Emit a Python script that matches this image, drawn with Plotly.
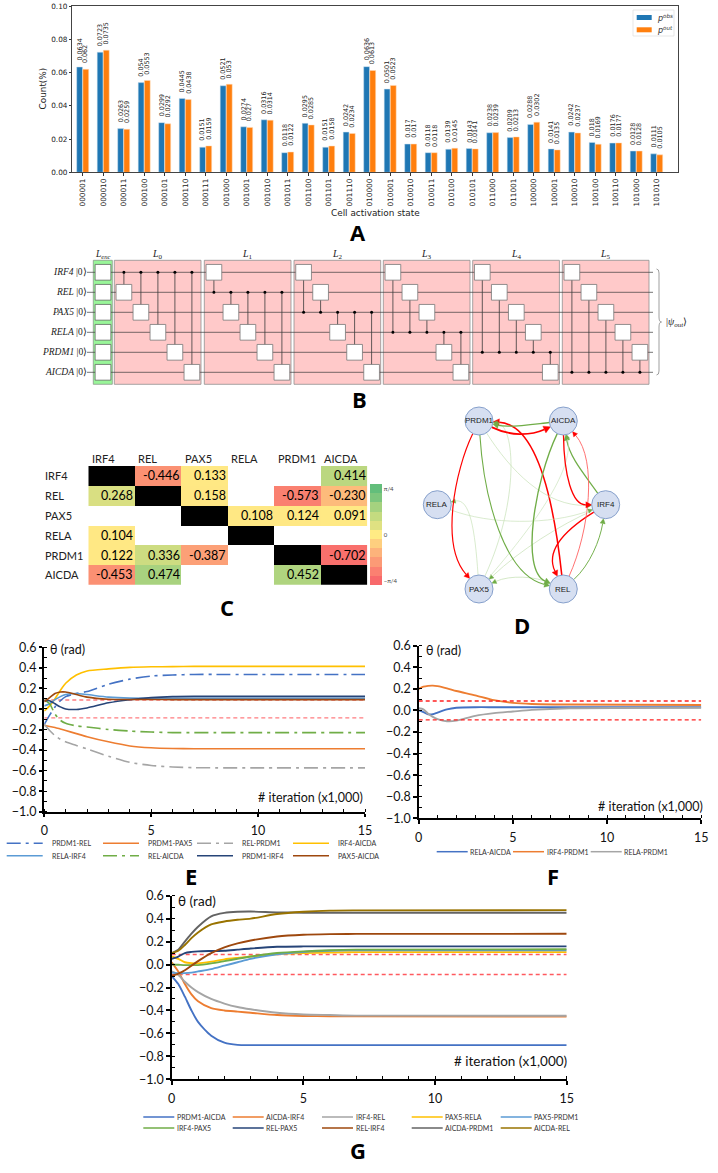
import math
import plotly.graph_objects as go

W, H = 718, 1173
def PX(x): return x / W
def PY(y): return 1 - y / H

# ---------- Panel A data ----------
states = ["000001","000010","000011","000100","000101","000110","000111","001000","001001","001010",
          "001011","001100","001101","001110","010000","010001","010010","010011","010100","010101",
          "011000","011001","100000","100001","100010","100100","100110","101000","101010"]
p_obs = [0.0634,0.0723,0.0263,0.054,0.0299,0.0445,0.0151,0.0521,0.0274,0.0316,0.0118,0.0295,0.0151,0.0242,
         0.0636,0.0501,0.017,0.0118,0.0139,0.0143,0.0238,0.0209,0.0288,0.0141,0.0242,0.018,0.0176,0.0128,0.0111]
p_out = [0.062,0.0735,0.0259,0.0553,0.0292,0.0438,0.0159,0.053,0.027,0.0314,0.0122,0.0285,0.0158,0.0234,
         0.0613,0.0523,0.017,0.0118,0.0145,0.0141,0.0239,0.0213,0.0302,0.0135,0.0237,0.0169,0.0177,0.0128,0.0105]

# ---------- Panels B, C, D data ----------
genes = ["IRF4","REL","PAX5","RELA","PRDM1","AICDA"]
theta = [[None,-0.446,0.133,None,None,0.414],
         [0.268,None,0.158,None,-0.573,-0.230],
         [None,None,None,0.108,0.124,0.091],
         [0.104,None,None,None,None,None],
         [0.122,0.336,-0.387,None,None,-0.702],
         [-0.453,0.474,None,None,0.452,None]]
node_xy = {"PRDM1":(479,421),"AICDA":(563.3,421),"RELA":(437.3,504.7),
           "IRF4":(605.7,504.7),"PAX5":(479,589),"REL":(563.3,589)}
# two control points per curved edge of the network
edge_ctrl = {("PRDM1","AICDA"):((510,436),(530,436)),("AICDA","PRDM1"):((535,424),(510,428)),
             ("REL","PRDM1"):((558,540),(545,425)),("PRDM1","REL"):((484,500),(505,575)),
             ("PRDM1","PAX5"):((455,470),(440,545)),("AICDA","REL"):((535,480),(520,570)),
             ("AICDA","IRF4"):((564,475),(572,505)),("IRF4","AICDA"):((585,475),(570,458)),
             ("REL","AICDA"):((590,530),(597,460)),("IRF4","REL"):((565,530),(545,550)),
             ("REL","IRF4"):((590,565),(600,540)),("RELA","IRF4"):((490,525),(550,525)),
             ("PAX5","RELA"):((475,530),(470,498)),("PRDM1","IRF4"):((510,470),(545,507)),
             ("PAX5","AICDA"):((530,530),(575,470)),("PAX5","PRDM1"):((520,500),(515,425)),
             ("IRF4","PAX5"):((560,525),(520,550)),("REL","PAX5"):((535,576),(510,575))}
# heat-map colours: value, colour
cell_values = [-0.7854,-0.70,-0.573,-0.45,-0.387,-0.23,-0.2,0,0.16,0.27,0.336,0.414,0.474,0.7854]
cell_colors = ["#F76A6B","#F9706C","#FA8070","#FB9073","#FCA077","#FDBB7B","#FDD07F","#FFEB84","#FFE784",
               "#D8DF82","#CDDC81","#BBD780","#A8D27F","#63BE7B"]
bar_bands = ["#F8696B","#FB8071","#FC9A76","#FDB37B","#FECF7F","#FFEB84","#DFE182","#C4DB80","#A5D27F","#7DC67D","#63BE7B"]

# ---------- Panels E, F, G data ----------
pi36 = 0.0873
iter_e = [0,0.25,0.5,0.75,1,1.5,2,3,4,5,6,7,8,10,15]
e_series = {
 "PRDM1-REL":  [-0.15,-0.06,0.02,0.08,0.12,0.15,0.17,0.24,0.29,0.32,0.33,0.336,0.336,0.336,0.336],
 "PRDM1-PAX5": [-0.16,-0.17,-0.18,-0.195,-0.21,-0.24,-0.27,-0.32,-0.36,-0.378,-0.385,-0.387,-0.387,-0.387,-0.387],
 "REL-PRDM1":  [-0.15,-0.21,-0.26,-0.295,-0.32,-0.355,-0.39,-0.46,-0.52,-0.55,-0.565,-0.572,-0.573,-0.573,-0.573],
 "IRF4-AICDA": [-0.02,0.03,0.10,0.18,0.25,0.33,0.37,0.39,0.405,0.41,0.412,0.414,0.414,0.414,0.414],
 "RELA-IRF4":  [0.03,0.05,0.09,0.12,0.14,0.15,0.14,0.115,0.105,0.104,0.104,0.104,0.104,0.104,0.104],
 "REL-AICDA":  [0.09,0.05,-0.05,-0.11,-0.14,-0.165,-0.175,-0.20,-0.215,-0.225,-0.23,-0.23,-0.23,-0.23,-0.23],
 "PRDM1-IRF4": [0.08,0.08,0.05,0.02,0.0,-0.005,0.01,0.06,0.09,0.11,0.12,0.122,0.122,0.122,0.122],
 "PAX5-AICDA": [0.07,0.11,0.15,0.165,0.165,0.14,0.115,0.095,0.092,0.092,0.091,0.091,0.091,0.091,0.091]}
e_colors = ["#4472C4","#ED7D31","#A5A5A5","#FFC000","#5B9BD5","#70AD47","#264478","#9E480E"]
e_dash =   ["dashdot","solid","dashdot","solid","solid","dashdot","solid","solid"]

iter_f = [0,0.25,0.5,0.75,1,1.5,2,3,4,5,6,8,15]
f_series = {
 "RELA-AICDA": [0,-0.015,-0.035,-0.035,-0.02,0.01,0.025,0.03,0.03,0.03,0.03,0.03,0.03],
 "IRF4-PRDM1": [0.20,0.22,0.228,0.23,0.225,0.205,0.18,0.14,0.095,0.07,0.06,0.055,0.05],
 "RELA-PRDM1": [0.02,0.01,-0.03,-0.06,-0.08,-0.10,-0.095,-0.05,-0.025,-0.01,0.005,0.02,0.025]}
f_colors = ["#4472C4","#ED7D31","#A5A5A5"]

iter_g = [0,0.25,0.5,0.75,1,1.5,2,2.5,3,4,5,6,7,15]
g_series = {
 "PRDM1-AICDA": [-0.10,-0.17,-0.28,-0.40,-0.50,-0.62,-0.68,-0.70,-0.702,-0.702,-0.702,-0.702,-0.702,-0.702],
 "AICDA-IRF4":  [0.02,-0.06,-0.17,-0.26,-0.32,-0.38,-0.40,-0.41,-0.42,-0.44,-0.448,-0.45,-0.452,-0.453],
 "IRF4-REL":    [-0.06,-0.09,-0.15,-0.20,-0.24,-0.30,-0.34,-0.37,-0.39,-0.42,-0.435,-0.44,-0.445,-0.446],
 "PAX5-RELA":   [0.07,0.05,0.02,0.012,0.01,0.025,0.045,0.058,0.07,0.09,0.10,0.105,0.108,0.108],
 "PAX5-PRDM1":  [-0.07,-0.075,-0.075,-0.07,-0.06,-0.04,-0.01,0.02,0.05,0.09,0.11,0.12,0.124,0.124],
 "IRF4-PAX5":   [0.0,-0.002,-0.005,-0.005,-0.005,0.01,0.03,0.05,0.07,0.10,0.115,0.125,0.13,0.133],
 "REL-PAX5":    [0.05,0.07,0.10,0.11,0.115,0.118,0.12,0.13,0.14,0.155,0.158,0.158,0.158,0.158],
 "REL-IRF4":    [-0.10,-0.08,-0.05,-0.01,0.03,0.10,0.15,0.185,0.21,0.245,0.26,0.265,0.267,0.268],
 "AICDA-PRDM1": [0.10,0.13,0.20,0.27,0.33,0.42,0.45,0.46,0.462,0.455,0.452,0.452,0.452,0.452],
 "AICDA-REL":   [0.10,0.12,0.17,0.23,0.28,0.35,0.375,0.39,0.40,0.44,0.46,0.47,0.472,0.474]}
g_colors = ["#4472C4","#ED7D31","#A5A5A5","#FFC000","#5B9BD5","#70AD47","#264478","#9E480E","#636363","#997300"]

fig = go.Figure()
shapes, annots = [], []

def text(x, y, s, size=10, color="black", family="Lato", xanchor="center", yanchor="middle", angle=0):
    annots.append(dict(x=PX(x), y=PY(y), xref="paper", yref="paper", text=s, showarrow=False,
                       font=dict(size=size, color=color, family=family), xanchor=xanchor, yanchor=yanchor,
                       textangle=angle, borderpad=0, borderwidth=0))

def rect(x0, y0, x1, y1, fill, line="rgba(0,0,0,0)", lw=1, layer="above"):
    shapes.append(dict(type="rect", xref="paper", yref="paper", x0=PX(x0), x1=PX(x1), y0=PY(y0), y1=PY(y1),
                       fillcolor=fill, line=dict(color=line, width=lw), layer=layer))

def seg(x0, y0, x1, y1, color="black", lw=1, dash="solid", layer="above"):
    shapes.append(dict(type="line", xref="paper", yref="paper", x0=PX(x0), x1=PX(x1), y0=PY(y0), y1=PY(y1),
                       line=dict(color=color, width=lw, dash=dash), layer=layer))

def path(points_svg, color, lw, fill=None):
    shapes.append(dict(type="path", xref="paper", yref="paper", path=points_svg,
                       line=dict(color=color, width=lw), fillcolor=fill if fill else "rgba(0,0,0,0)", layer="above"))

def P(x, y): return f"{PX(x):.5f},{PY(y):.5f}"

# ---------- A ----------
FA = "DejaVu Sans"
for vals, nm, col, edge, shift in [(p_obs, "p obs", "#1f77b4", "#cfe3f0", -3.1),
                                   (p_out, "p out", "#ff7f0e", "#ffdcbc", 3.1)]:
    fig.add_trace(go.Bar(x=states, y=vals, name=nm, marker=dict(color=col, line=dict(color=edge, width=0.5)),
                         showlegend=False, xaxis="x", yaxis="y"))
    for idx, v in enumerate(vals):
        annots.append(dict(x=idx, y=v, xref="x", yref="y", text=str(v), showarrow=False, textangle=-90,
                           xanchor="center", yanchor="bottom", xshift=shift, yshift=6, borderpad=0, borderwidth=0,
                           font=dict(size=6.4, family=FA, color="#222")))
# legend of panel A
rect(633, 10, 674, 36, "white", "#dddddd", 0.7)
rect(636.7, 15, 651.7, 20, "#1f77b4")
rect(636.7, 27.3, 651.7, 32.3, "#ff7f0e")
text(656.5, 17.5, "<i>p<sup>obs</sup></i>", 8, "#333", FA, "left")
text(656.5, 29.7, "<i>p<sup>out</sup></i>", 8, "#333", FA, "left")

# ---------- C ----------
cx0, cx1, cy0, cy1 = 88.3, 367.3, 466, 584.7
zlo, zhi = -math.pi / 4, math.pi / 4
cell_scale = [[(v - zlo) / (zhi - zlo), c] for v, c in zip(cell_values, cell_colors)]
cell_scale[0][0] = 0; cell_scale[-1][0] = 1
nb = len(bar_bands)
band_scale = []
for i, c in enumerate(bar_bands):
    band_scale += [[i / nb, c], [(i + 1) / nb, c]]
z_black = [[1 if i == j else None for j in range(6)] for i in range(6)]
fig.add_trace(go.Heatmap(z=theta, x=list(range(6)), y=list(range(6)), colorscale=cell_scale, zmin=zlo, zmax=zhi,
                         showscale=False, xaxis="x2", yaxis="y2", hoverongaps=False))
fig.add_trace(go.Heatmap(z=[[0]], x=[-50], y=[-50], colorscale=band_scale, zmin=zlo, zmax=zhi, xaxis="x2", yaxis="y2",
                         hoverinfo="skip", showscale=True,
                         colorbar=dict(x=PX(370), xanchor="left", y=PY(534.7), yanchor="middle",
                                       lenmode="pixels", len=100.7, thicknessmode="pixels", thickness=11.7,
                                       xpad=0, ypad=0, outlinewidth=0, ticks="", tickmode="array",
                                       tickvals=[zhi * 10 / 11, 0, zlo * 10 / 11], ticktext=["π/4","0","−π/4"],
                                       tickfont=dict(size=6, family="Lato", color="#444"), ticklabelposition="outside")))
fig.add_trace(go.Heatmap(z=z_black, x=list(range(6)), y=list(range(6)), colorscale=[[0,"black"],[1,"black"]], showscale=False,
                         xaxis="x2", yaxis="y2", hoverinfo="skip"))
for i in range(6):
    for j in range(6):
        v = theta[i][j]
        if v is not None:
            annots.append(dict(x=j + 0.47, y=i, xref="x2", yref="y2", text=f"{v:.3f}", showarrow=False,
                               xanchor="right", yanchor="middle", borderpad=0, borderwidth=0,
                               font=dict(size=12.5, family="Lato", color="black")))

# ---------- E, F, G ----------
def add_lines(xs, series, colors, dashes, xa, ya, width):
    for k, (name, vals) in enumerate(series.items()):
        d = dashes[k] if dashes else "solid"
        if d == "dashdot":
            d = "14px,5px,3px,5px"
        fig.add_trace(go.Scatter(x=xs, y=vals, mode="lines", name=name, showlegend=False,
                                 line=dict(color=colors[k], width=width, dash=d, shape="spline", smoothing=0.7),
                                 xaxis=xa, yaxis=ya))

def add_thresh(xa, ya, color):
    for v in (pi36, -pi36):
        fig.add_trace(go.Scatter(x=[0, 15], y=[v, v], mode="lines", showlegend=False, hoverinfo="skip",
                                 line=dict(color=color, width=1.4, dash="4px,3px"), xaxis=xa, yaxis=ya))

add_thresh("x3", "y3", "#FF7C80")
add_lines(iter_e, e_series, e_colors, e_dash, "x3", "y3", 1.6)
add_lines(iter_f, f_series, f_colors, None, "x4", "y4", 1.9)
add_thresh("x4", "y4", "#FF2020")
add_thresh("x5", "y5", "#FF5A5F")
add_lines(iter_g, g_series, g_colors, None, "x5", "y5", 1.9)

layout_axes = {}
def line_axes(nx, ny, x0, x1, ytop, ybot, tf):
    common = dict(showgrid=False, zeroline=False, showline=True, linecolor="black", linewidth=1.8,
                  tickcolor="black", tickwidth=1.6, ticks="outside", ticklen=3.5,
                  tickfont=dict(size=tf, family="Lato", color="#111"),
                  minor=dict(ticks="inside", ticklen=3, tickwidth=1.4, tickcolor="black", showgrid=False))
    layout_axes["xaxis" + nx] = dict(domain=[PX(x0), PX(x1)], range=[0, 15], anchor="y" + ny, tickvals=[0, 5, 10, 15],
                                     ticktext=["0","5","10","15"], ticklabelstandoff=3,
                                     **{**common, "minor": dict(common["minor"], tickvals=list(range(16)))})
    layout_axes["yaxis" + ny] = dict(domain=[PY(ybot), PY(ytop)], range=[-1, 0.6], anchor="x" + nx,
                                     tickvals=[-1,-0.8,-0.6,-0.4,-0.2,0,0.2,0.4,0.6], tickformat=".1f",
                                     **{**common, "minor": dict(common["minor"], tickvals=[round(-1 + 0.1 * i, 1) for i in range(17)])})

line_axes("3", "3", 44.3, 365, 647.3, 811.7, 12.5)
line_axes("4", "4", 418.7, 701.3, 645.7, 818.3, 12.5)
line_axes("5", "5", 171.7, 566.7, 895.7, 1079.3, 12.5)

FT = "Lato"
text(50, 649, "θ (rad)", 12.5, "#111", FT, "left")
text(363, 797, "# iteration (x1,000)", 12.5, "#111", FT, "right")
text(426, 650.5, "θ (rad)", 12.5, "#111", FT, "left")
text(703, 806, "# iteration (x1,000)", 12.5, "#111", FT, "right")
text(178, 900.5, "θ (rad)", 13.5, "#111", FT, "left")
text(567, 1060.5, "# iteration (x1,000)", 13.5, "#111", FT, "right")

def legend_rows(series, colors, dashes, lefts, line_w, txt_off, rows_y, width=1.5):
    names = list(series)
    ncol = len(lefts)
    for k, name in enumerate(names):
        r, c = k // ncol, k % ncol
        y = rows_y[r]
        d = dashes[k] if dashes else "solid"
        d = "14px,5px,3px,5px" if d == "dashdot" else "solid"
        seg(lefts[c], y, lefts[c] + line_w, y, colors[k], width, d)
        text(lefts[c] + txt_off, y, name, 7, "#333", FT, "left")

legend_rows(e_series, e_colors, e_dash, [6.7, 103, 197, 293], 36, 45, [843.2, 855.7])
legend_rows(f_series, f_colors, None, [436.7, 513, 590.7], 31, 33.5, [851.7])
legend_rows(g_series, g_colors, None, [143.3, 232.7, 322, 411.7, 500.7], 31, 33.5, [1117, 1128])

# ---------- B circuit ----------
wire_y = [272.3 + 20 * i for i in range(6)]
layer_left = [114.3, 204.3, 294, 383.3, 472.7, 562.3]
layer_w = 86.7
box = 15.7
SER = "Liberation Serif"
rect(93.3, 260.3, 112.3, 384.3, "#99F599", "#8a9a8a", 0.8)
text(102.8, 254, "<i>L<sub>enc</sub></i>", 9.5, "#222", SER)
for i, lx in enumerate(layer_left):
    rect(lx, 260.3, lx + layer_w, 384.3, "#FFC9C9", "#8f8f8f", 0.8)
    text(lx + layer_w / 2, 254, f"<i>L</i><sub>{i}</sub>", 10, "#222", SER)
for i, y in enumerate(wire_y):
    seg(87, y, 653, y, "#3a3a3a", 0.7)
    text(87, y - 0.5, f"<i>{genes[i]}</i> |0⟩", 9.5, "#222", SER, "right")
    rect(103 - box/2, y - box/2, 103 + box/2, y + box/2, "white", "#555", 0.7)
ctrl_x, ctrl_y = [], []
for i, lx in enumerate(layer_left):
    targets = [t for t in range(6) if t != i]
    for k, t in enumerate(targets):
        gx = lx + 9.6 + 17 * k
        seg(gx, wire_y[i], gx, wire_y[t], "#3a3a3a", 0.8)
        rect(gx - box/2, wire_y[t] - box/2, gx + box/2, wire_y[t] + box/2, "white", "#777", 0.8)
        ctrl_x.append(gx); ctrl_y.append(wire_y[i])
for x, y in zip(ctrl_x, ctrl_y):
    shapes.append(dict(type="circle", xref="paper", yref="paper", x0=PX(x-1.5), x1=PX(x+1.5), y0=PY(y+1.5), y1=PY(y-1.5),
                       fillcolor="black", line=dict(color="black", width=0), layer="above"))
bx = 656.5
path(f"M {P(bx,269)} Q {P(bx+2.5,269)} {P(bx+2.5,273)} L {P(bx+2.5,317)} Q {P(bx+2.5,322)} {P(bx+5,322)} "
     f"Q {P(bx+2.5,322)} {P(bx+2.5,327)} L {P(bx+2.5,371)} Q {P(bx+2.5,375)} {P(bx,375)}", "#777", 0.7)
text(676, 322, "|<i>ψ<sub>out</sub></i>⟩", 10, "#222", SER)

# ---------- D network ----------
R = 14
for i, src in enumerate(genes):
    for j, tgt in enumerate(genes):
        v = theta[i][j]
        if v is None:
            continue
        (x0, y0), (x1, y1) = node_xy[src], node_xy[tgt]
        (c1x, c1y), (c2x, c2y) = edge_ctrl[(src, tgt)]
        a0 = math.atan2(c1y - y0, c1x - x0); a1 = math.atan2(c2y - y1, c2x - x1)
        sx, sy = x0 + R * math.cos(a0), y0 + R * math.sin(a0)
        ex, ey = x1 + R * math.cos(a1), y1 + R * math.sin(a1)
        mag = abs(v)
        color = "#FF0000" if v < 0 else "#70AD47"
        if v > 0 and mag < 0.2:
            color = "#C5E0B4"
        if v < 0 and mag < 0.3:
            color = "#FF6060"
        lw = 0.45 + 1.9 * mag
        hl = 4 + 4 * mag; hw = 2 + 2.5 * mag
        hx, hy = ex + hl * math.cos(a1), ey + hl * math.sin(a1)
        path(f"M {P(sx,sy)} C {P(c1x,c1y)} {P(c2x,c2y)} {P(hx,hy)}", color, lw)
        nx, ny = -math.sin(a1), math.cos(a1)
        hcolor = "#70AD47" if v > 0 else "#FF0000"
        path(f"M {P(ex,ey)} L {P(hx+nx*hw,hy+ny*hw)} L {P(hx-nx*hw,hy-ny*hw)} Z", hcolor, 0.3, hcolor)
for name, (x, y) in node_xy.items():
    shapes.append(dict(type="circle", xref="paper", yref="paper", x0=PX(x-R), x1=PX(x+R), y0=PY(y+R), y1=PY(y-R),
                       fillcolor="#D6DFF1", line=dict(color="#7C97C6", width=0.9), layer="above"))
    text(x, y, name, 8, "#222", "Liberation Sans")

# ---------- C labels ----------
cw = (cx1 - cx0) / 6; ch = (cy1 - cy0) / 6
for i, g in enumerate(genes):
    text(91.7 + i * cw, 458.5, g, 11, "#222", FT, "left")
    text(45, cy0 + ch * (i + 0.5), g, 11, "#222", FT, "left")

# ---------- A labels and panel letters ----------
text(42.5, 89, "Count(%)", 8.9, "#222", FA, angle=-90)
text(375, 213, "Cell activation state", 8.9, "#222", FA)
for s, x, y in [("A",358,232),("B",359,399),("C",227,607),("D",522,625),("E",191,876),("F",553,876),("G",358,1150)]:
    text(x, y, f"<b>{s}</b>", 22, "black", "Open Sans")

fig.update_layout(
    width=W, height=H, autosize=False, margin=dict(l=0, r=0, t=0, b=0, autoexpand=False),
    paper_bgcolor="white", plot_bgcolor="rgba(0,0,0,0)",
    barmode="group", bargap=0.4, bargroupgap=0.05, showlegend=False,
    xaxis=dict(domain=[PX(72.3), PX(678)], range=[-0.507, 29.04], anchor="y", showgrid=False, zeroline=False, type="category",
               showline=True, mirror=True, linecolor="#444", linewidth=0.8, ticks="outside", ticklen=2.5, tickwidth=0.6, tickcolor="#333",
               tickangle=-90, tickfont=dict(size=7.3, family=FA, color="#222"), tickmode="array", tickvals=states, ticktext=states),
    yaxis=dict(domain=[PY(172.3), PY(6.2)], range=[0, 0.1], anchor="x", showgrid=False, zeroline=False, showline=True, mirror=True,
               linecolor="#444", linewidth=0.8, ticks="outside", ticklen=2.5, tickwidth=0.6, tickcolor="#333",
               tickvals=[0,0.02,0.04,0.06,0.08,0.10], tickformat=".2f", tickfont=dict(size=7.3, family=FA, color="#222")),
    xaxis2=dict(domain=[PX(cx0), PX(cx1)], range=[-0.5, 5.5], anchor="y2", visible=False),
    yaxis2=dict(domain=[PY(cy1), PY(cy0)], range=[5.5, -0.5], anchor="x2", visible=False),
    shapes=shapes, annotations=annots, **layout_axes)

fig.write_html("out.html", config={"displayModeBar": False},
               post_script="document.body.style.margin='0';document.documentElement.style.overflow='hidden';")
